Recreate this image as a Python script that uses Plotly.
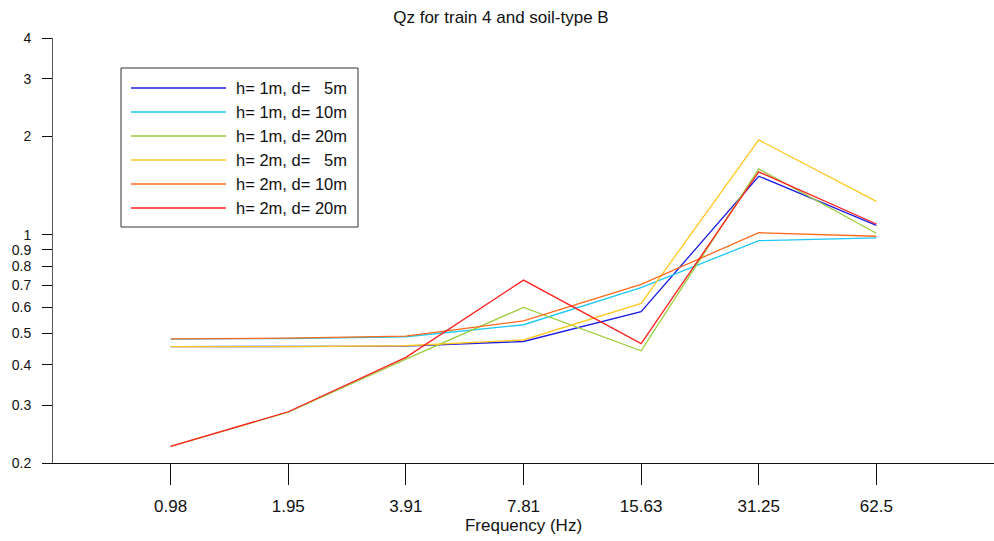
import math
import plotly.graph_objects as go

# Frequency bands (Hz) shown as categorical ticks
freq_labels = ["0.98", "1.95", "3.91", "7.81", "15.63", "31.25", "62.5"]

# Qz values per configuration (h = depth, d = distance)
qz_h1_d5 = [0.454, 0.454, 0.456, 0.471, 0.581, 1.51, 1.068]
qz_h1_d10 = [0.479, 0.481, 0.487, 0.530, 0.689, 0.959, 0.977]
qz_h1_d20 = [0.225, 0.286, 0.416, 0.599, 0.441, 1.59, 1.01]
qz_h2_d5 = [0.454, 0.454, 0.457, 0.476, 0.616, 1.95, 1.265]
qz_h2_d10 = [0.480, 0.482, 0.489, 0.545, 0.704, 1.014, 0.989]
qz_h2_d20 = [0.225, 0.287, 0.421, 0.726, 0.464, 1.557, 1.078]

series_names = [
    "h= 1m, d=\u00a0\u00a0\u00a05m",
    "h= 1m, d= 10m",
    "h= 1m, d= 20m",
    "h= 2m, d=\u00a0\u00a0\u00a05m",
    "h= 2m, d= 10m",
    "h= 2m, d= 20m",
]
series_values = [qz_h1_d5, qz_h1_d10, qz_h1_d20, qz_h2_d5, qz_h2_d10, qz_h2_d20]
series_colors = ["#1c1ce6", "#1ec8f5", "#9acd3c", "#ffc81e", "#ff6a1a", "#ff2020"]

y_tick_vals = [0.2, 0.3, 0.4, 0.5, 0.6, 0.7, 0.8, 0.9, 1, 2, 3, 4]
y_tick_text = ["0.2", "0.3", "0.4", "0.5", "0.6", "0.7", "0.8", "0.9", "1", "2", "3", "4"]

W, H = 994, 541
M_L, M_R, M_T, M_B = 53, 0, 38, 78
PW, PH = W - M_L - M_R, H - M_T - M_B
FONT = "Liberation Sans, Arial, sans-serif"


def px_to_paper_x(px):
    return (px - M_L) / PW


def px_to_paper_y(py):
    return (H - M_B - py) / PH


fig = go.Figure()
for name, vals, col in zip(series_names, series_values, series_colors):
    fig.add_trace(go.Scatter(
        x=freq_labels, y=vals, mode="lines", name=name,
        line=dict(color=col, width=1.3), showlegend=False,
    ))

# Boxed legend drawn with shapes and text
shapes = [dict(
    type="rect", xref="paper", yref="paper",
    x0=px_to_paper_x(121), x1=px_to_paper_x(358),
    y0=px_to_paper_y(227), y1=px_to_paper_y(68),
    line=dict(color="#333333", width=1), fillcolor="white", layer="above",
)]
annotations = []
for i, (name, col) in enumerate(zip(series_names, series_colors)):
    yy = px_to_paper_y(88 + 24 * i)
    shapes.append(dict(
        type="line", xref="paper", yref="paper",
        x0=px_to_paper_x(131), x1=px_to_paper_x(226), y0=yy, y1=yy,
        line=dict(color=col, width=1.3), layer="above",
    ))
    annotations.append(dict(
        xref="paper", yref="paper", x=px_to_paper_x(234), y=yy,
        text=name, showarrow=False, xanchor="left", yanchor="middle",
        font=dict(family=FONT, size=16.5, color="#111111"),
    ))

fig.update_layout(
    width=W, height=H,
    margin=dict(l=M_L, r=M_R, t=M_T, b=M_B, autoexpand=False),
    paper_bgcolor="white", plot_bgcolor="white",
    font=dict(family=FONT, color="#111111"),
    title=dict(
        text="Qz for train 4 and soil-type B",
        x=0.504, xref="container", xanchor="center",
        y=1 - 17 / H, yref="container", yanchor="middle",
        font=dict(family=FONT, size=17, color="#111111"),
    ),
    shapes=shapes,
    annotations=annotations,
)

fig.update_xaxes(
    type="category", range=[-1, 7],
    showgrid=False, zeroline=False,
    showline=True, linecolor="#111111", linewidth=1,
    ticks="outside", ticklen=21, tickcolor="#111111", tickwidth=1,
    tickfont=dict(family=FONT, size=17, color="#111111"),
    ticklabelstandoff=7,
    title=dict(text="Frequency (Hz)", standoff=2,
               font=dict(family=FONT, size=17, color="#111111")),
)
fig.update_yaxes(
    type="log", range=[math.log10(0.2), math.log10(4)],
    tickmode="array", tickvals=y_tick_vals, ticktext=y_tick_text,
    showgrid=False, zeroline=False,
    showline=True, linecolor="#555555", linewidth=1,
    ticks="outside", ticklen=10, tickcolor="#111111", tickwidth=1,
    tickfont=dict(family=FONT, size=14, color="#111111"),
    ticklabelstandoff=8,
)

fig.write_html("out.html")
